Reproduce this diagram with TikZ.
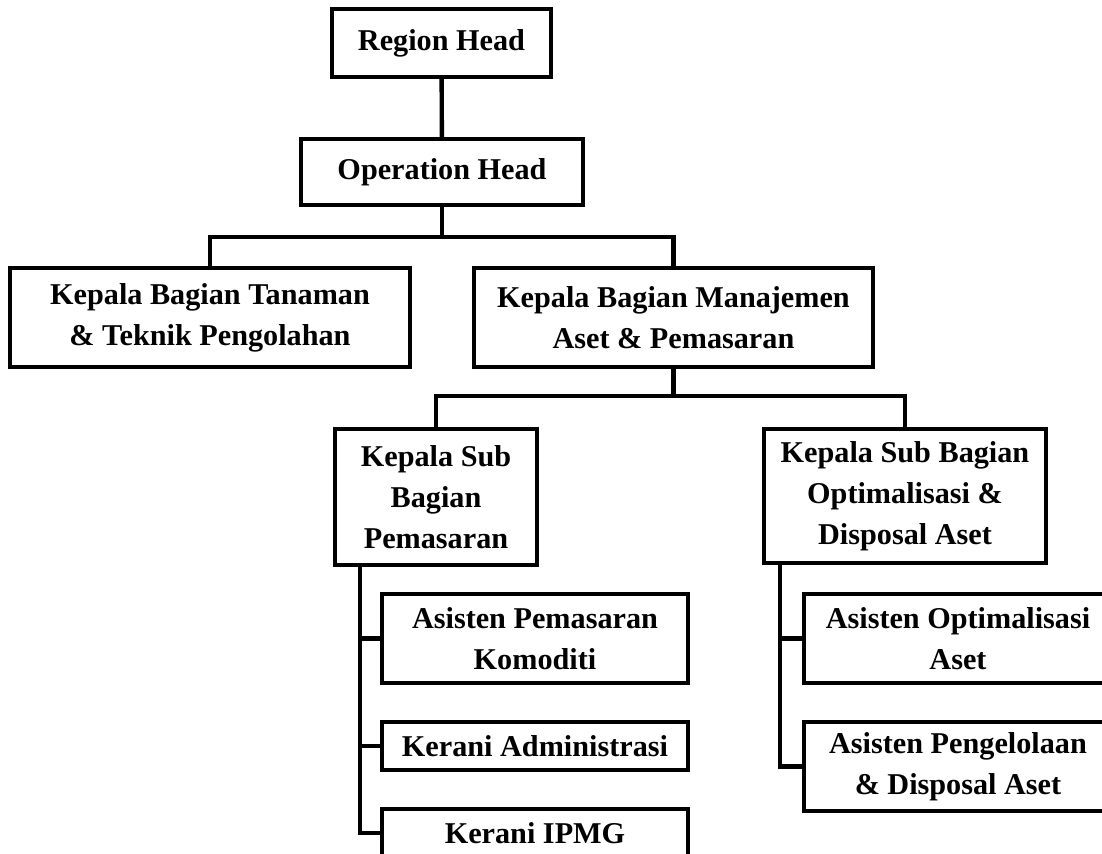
\documentclass[tikz,border=0pt]{standalone}
\usepackage{fontspec}
\setmainfont{Liberation Serif}
\usepackage{tikz}

\begin{document}
\begin{tikzpicture}[x = 0.02cm, y = -0.02cm,
  unit/.style = {draw, line width = 2.5pt, inner sep = 0, align = center,
    font = \fontsize{17.2}{23.2}\selectfont\bfseries},
  link/.style = {line width = 2.5pt}]
  \useasboundingbox (0, 0) rectangle (1102, 854);
  \clip (0, 0) rectangle (1102, 854);
  \node [unit, minimum width = 4.38cm, minimum height = 1.36cm] (rh) at (441.5, 43) {Region Head};
  \node [unit, minimum width = 5.64cm, minimum height = 1.32cm] (oh) at (442, 172) {Operation Head};
  \node [unit, minimum width = 8cm, minimum height = 1.98cm] (tan) at (210, 317.5) {Kepala Bagian Tanaman\\ \& Teknik Pengolahan};
  \node [unit, minimum width = 7.98cm, minimum height = 1.98cm] (man) at (673.5, 317.5) {Kepala Bagian Manajemen\\ Aset \& Pemasaran};
  \node [unit, minimum width = 4.04cm, minimum height = 2.72cm] (sp) at (436, 497) {Kepala Sub\\ Bagian\\ Pemasaran};
  \node [unit, minimum width = 5.64cm, minimum height = 2.68cm] (so) at (905, 496) {Kepala Sub Bagian\\ Optimalisasi \&\\ Disposal Aset};
  \node [unit, minimum width = 6.12cm, minimum height = 1.78cm] (apk) at (535, 638.5) {Asisten Pemasaran\\ Komoditi};
  \node [unit, minimum width = 6.12cm, minimum height = 0.96cm] (kad) at (535, 746) {Kerani Administrasi};
  \node [unit, minimum width = 6.12cm, minimum height = 0.96cm] (ipmg) at (535, 833) {Kerani IPMG};
  \node [unit, minimum width = 6.16cm, minimum height = 1.78cm] (aoa) at (958, 638.5) {Asisten Optimalisasi\\ Aset};
  \node [unit, minimum width = 6.16cm, minimum height = 1.78cm] (apd) at (958, 766.5) {Asisten Pengelolaan\\ \& Disposal Aset};
  \coordinate (busa) at (0, 237);
  \coordinate (busb) at (0, 396);
  \coordinate (tpa) at (360, 0);
  \coordinate (tpb) at (780, 0);
  \draw [link] (rh) -- (oh);
  \draw [link] (oh.south) -- (oh.south |- busa) -| (tan.north);
  \draw [link] (oh.south |- busa) -| (man.north);
  \draw [link] (man.south) -- (man.south |- busb) -| (sp.north);
  \draw [link] (man.south |- busb) -| (so.north);
  \draw [link] (sp.south -| tpa) |- (ipmg.west);
  \foreach \n in {apk, kad} \draw [link] (\n.west -| tpa) -- (\n.west);
  \draw [link] (so.south -| tpb) |- (apd.west);
  \draw [link] (aoa.west -| tpb) -- (aoa.west);
\end{tikzpicture}
\end{document}
